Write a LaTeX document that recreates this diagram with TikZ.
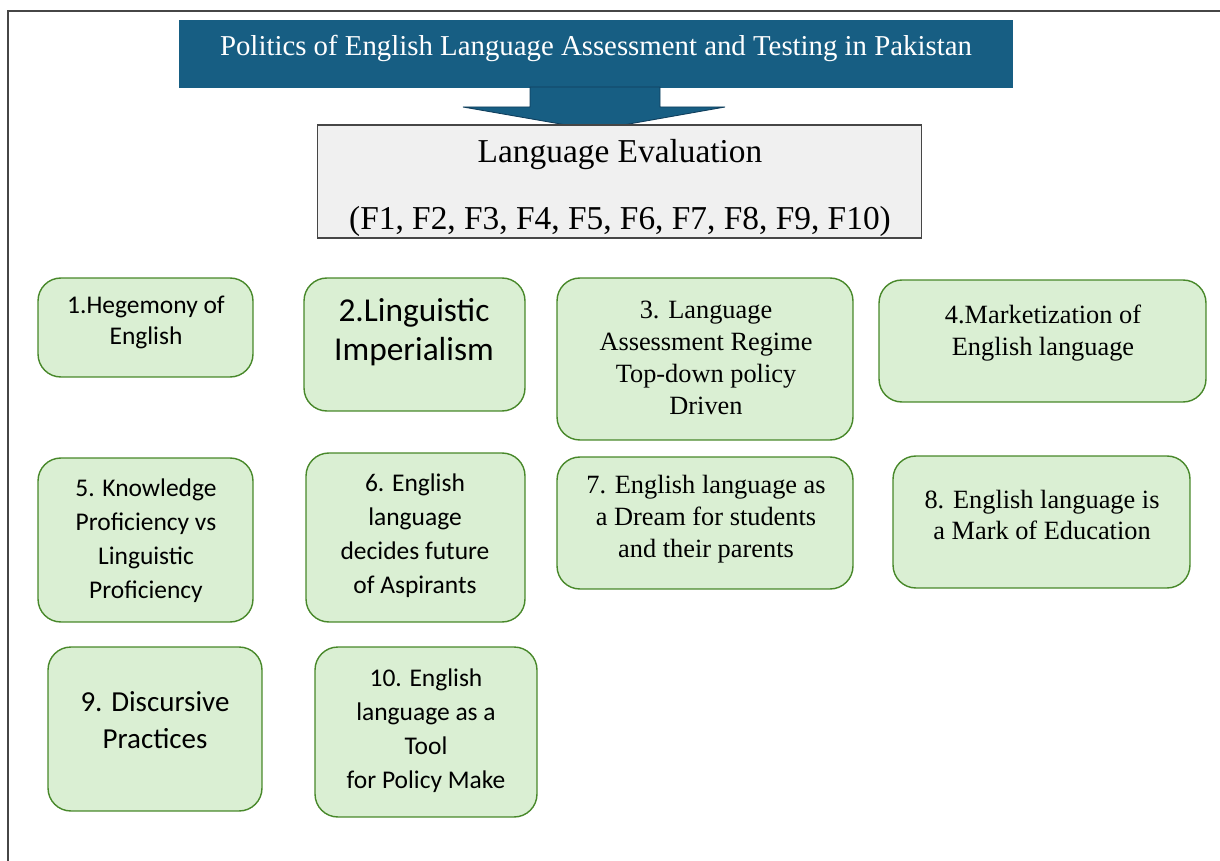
\documentclass[tikz,border=0pt]{standalone}
\usepackage{fontspec}
\setmainfont{Liberation Serif}
\newfontfamily\carlito{Carlito}
\definecolor{titleblue}{RGB}{23,94,131}
\definecolor{arrowedge}{RGB}{16,62,92}
\definecolor{evalgray}{RGB}{240,240,240}
\definecolor{leafgreen}{RGB}{218,239,211}
\definecolor{leafedge}{RGB}{72,136,42}
\definecolor{framegray}{RGB}{70,70,70}

\begin{document}
\begin{tikzpicture}[x=.02cm,y=-.02cm,every node/.style={align=center,inner sep=0pt}]
\tikzstyle{g}=[draw=leafedge,fill=leafgreen,line width=.8pt,rounded corners=13pt]
\tikzstyle{ss}=[font=\carlito\fontsize{14.5}{19.3}\selectfont]
\tikzstyle{tt}=[font=\fontsize{15}{18.1}\selectfont]
\useasboundingbox (0,0) rectangle (1220,861);
% page frame
\draw[framegray,line width=.7pt] (8,861) -- (8,11) -- (1220,11);
% heading and block arrow
\node[fill=titleblue,minimum width=16.68cm,minimum height=1.36cm] (title) at (596,54) {};
\node[text=white,font=\fontsize{16.4}{20}\selectfont] (titlet) at (596,48) {Politics of English Language Assessment and Testing in Pakistan};
\coordinate (ar) at (595,87);
\filldraw[fill=titleblue,draw=arrowedge,line width=.5pt] (ar) ++(-65,0) -- ++(0,20) -- ++(-67,0) -- ++(132,23) -- ++(130,-23) -- ++(-65,0) -- ++(0,-20) -- cycle;
\node[draw=framegray,fill=evalgray,line width=.6pt,minimum width=12.1cm,minimum height=2.26cm] (eval) at (619.5,181.5) {};
\node[font=\fontsize{19}{38}\selectfont] (evalt) at (620,188) {Language Evaluation\\(F1, F2, F3, F4, F5, F6, F7, F8, F9, F10)};
% first row
\node[g,minimum width=4.3cm,minimum height=1.98cm] (f1) at (145.5,327.5) {};
\node[ss,font=\carlito\fontsize{14.5}{17.6}\selectfont] (f1t) at (146,322) {1.Hegemony of\\English};
\node[g,minimum width=4.42cm,minimum height=2.66cm] (f2) at (414.5,344.5) {};
\node[ss,font=\carlito\fontsize{19}{22.1}\selectfont] (f2t) at (414,332) {2.Linguistic\\Imperialism};
\node[g,minimum width=5.92cm,minimum height=3.24cm] (f3) at (705,359) {};
\node[tt] (f3t) at (706,358) {3. Language\\Assessment Regime\\Top-down policy\\Driven};
\node[g,minimum width=6.54cm,minimum height=2.44cm] (f4) at (1042.5,341) {};
\node[tt] (f4t) at (1043,333) {4.Marketization of\\English language};
% second row
\node[g,minimum width=4.3cm,minimum height=3.28cm] (f5) at (145.5,540) {};
\node[ss] (f5t) at (146,541) {5. Knowledge\\Proficiency vs\\Linguistic\\Proficiency};
\node[g,minimum width=4.38cm,minimum height=3.38cm] (f6) at (415.5,537.5) {};
\node[ss] (f6t) at (415,536) {6. English\\language\\decides future\\of Aspirants};
\node[g,minimum width=5.92cm,minimum height=2.64cm] (f7) at (705,523) {};
\node[tt] (f7t) at (706,519) {7. English language as\\a Dream for students\\and their parents};
\node[g,minimum width=5.94cm,minimum height=2.64cm] (f8) at (1041.5,522) {};
\node[tt] (f8t) at (1042,515) {8. English language is\\a Mark of Education};
% third row
\node[g,minimum width=4.28cm,minimum height=3.28cm] (f9) at (155,729) {};
\node[ss,font=\carlito\fontsize{16.5}{21}\selectfont] (f9t) at (155,720) {9. Discursive\\Practices};
\node[g,minimum width=4.44cm,minimum height=3.4cm] (f10) at (426,732) {};
\node[ss] (f10t) at (426,731) {10. English\\language as a\\Tool\\for Policy Make};
\end{tikzpicture}
\end{document}
